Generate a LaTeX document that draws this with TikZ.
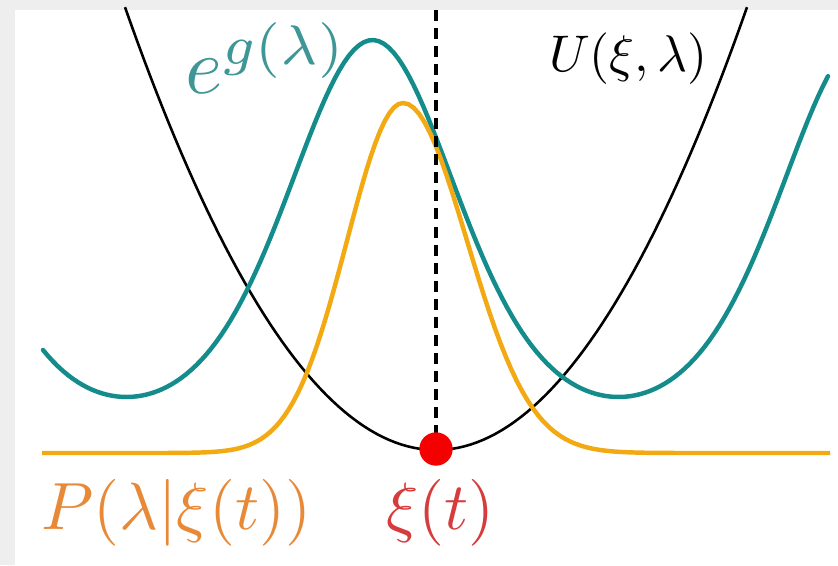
\documentclass[tikz,border=0pt]{standalone}

\begin{document}
\begin{tikzpicture}[x=0.015cm, y=-0.015cm,
    declare function={
        % height of e^g above the base line, d = distance from the peak
        gh(\d) = -38.3 + 206.3*exp(0.7828*cos(180*(\d/246)));
    }]

    % Define custom colors
    \definecolor{framegray}{RGB}{238, 238, 238}
    \definecolor{curveteal}{RGB}{20, 140, 140}
    \definecolor{curvegold}{RGB}{243, 169, 18}
    \definecolor{labelteal}{RGB}{62, 150, 150}
    \definecolor{labelorange}{RGB}{232, 137, 55}
    \definecolor{labelred}{RGB}{214, 60, 60}
    \definecolor{dotred}{RGB}{245, 0, 0}

    % 1. Frame (gray strips on top and left)
    \useasboundingbox (0,0) rectangle (838,565);
    \fill[framegray] (0,0) rectangle (838,565);
    \fill[white] (15,10) rectangle (838,565);

    % 2. Potential U (black parabola)
    \draw[black, line width=1.1pt] plot[domain=125:747, samples=100]
        (\x, {450 - 440*((\x-436)/310)^2});

    % 3. e^g (teal curve)
    \draw[curveteal, line width=1.9pt, line cap=round] plot[domain=43:828, samples=160]
        (\x, {453 - gh(\x-372.5)});

    % 4. P (gold curve, wider on the right)
    \draw[curvegold, line width=1.9pt]
        plot[domain=42:403, samples=80] (\x, {453 - 350*exp(-0.5*((\x-403)/56)^2)})
        -- plot[domain=403:830, samples=80] (\x, {453 - 350*exp(-0.5*((\x-403)/64)^2)});

    % 5. Dashed line and the point xi(t)
    \coordinate (xitop) at (436,10);
    \coordinate (xibot) at (436,462);
    \coordinate (xi) at (436,449);
    \draw[black, line width=1.4pt, dash pattern=on 4.7pt off 3pt] (xitop) -- (xibot);
    \fill[dotred] (xi) circle [radius=0.25cm];

    % 6. Labels
    \node[anchor=base west, inner sep=0pt, text=labelteal, scale=3.4]
        (glabel) at (184,93) {$e^{g(\lambda)}$};
    \node[anchor=base west, inner sep=0pt, scale=2.2]
        (Ulabel) at (548,71) {$U(\xi,\lambda)$};
    \node[anchor=base west, inner sep=0pt, text=labelorange, scale=2.85]
        (Plabel) at (40,529) {$P(\lambda|\xi(t))$};
    \node[anchor=base west, inner sep=0pt, text=labelred, scale=2.85]
        (xilabel) at (385,529) {$\xi(t)$};

\end{tikzpicture}
\end{document}
